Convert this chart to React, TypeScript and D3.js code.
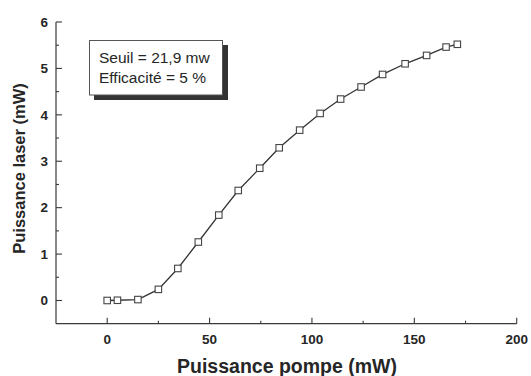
import React from "react";
import * as d3 from "d3";

const pompe = [0, 5, 15, 25, 34.5, 44.5, 54.5, 64, 74.5, 84, 94, 104, 114, 124, 134.5, 145.5, 156, 165.5, 171];
const laser = [0, 0.005, 0.02, 0.24, 0.69, 1.26, 1.84, 2.37, 2.85, 3.29, 3.67, 4.03, 4.34, 4.6, 4.87, 5.1, 5.28, 5.46, 5.52];
const xMajor = [0, 50, 100, 150, 200];
const xMinor = [25, 75, 125, 175];
const yMajor = [0, 1, 2, 3, 4, 5, 6];
const yMinor = [0.5, 1.5, 2.5, 3.5, 4.5, 5.5];
const boxLines = ["Seuil = 21,9 mw", "Efficacité = 5 %"];
const xTitle = "Puissance pompe (mW)";
const yTitle = "Puissance laser (mW)";

const W = 531;
const H = 376;
const AX = "#3a3a3a";
const TXT = "#262626";
const FONT = "'Liberation Sans', Arial, Helvetica, sans-serif";

export default function App() {
  const x = d3.scaleLinear().domain([-25, 200]).range([56, 516.7]);
  const y = d3.scaleLinear().domain([-0.5, 6]).range([323.7, 22]);
  const data = pompe.map((p, i) => [p, laser[i]] as [number, number]);
  const line = d3.line<[number, number]>().x(d => x(d[0])).y(d => y(d[1]));
  const x0 = x(-25);
  const yB = y(-0.5);
  const ms = 6.5;

  return (
    <svg width={W} height={H} style={{ position: "absolute", left: 0, top: 0, background: "#fff" }} fontFamily={FONT}>
      <rect x={0} y={0} width={W} height={H} fill="#fff" />
      {/* axes */}
      <line x1={x0} x2={x0} y1={y(6)} y2={yB} stroke={AX} strokeWidth={1.2} />
      <line x1={x0} x2={x(200)} y1={yB} y2={yB} stroke={AX} strokeWidth={1.2} />
      {xMajor.map(v => (
        <g key={"xm" + v}>
          <line x1={x(v)} x2={x(v)} y1={yB} y2={yB - 6} stroke={AX} strokeWidth={1.1} />
          <text x={x(v)} y={yB + 20} textAnchor="middle" fontSize={13.5} fontWeight="bold" fill={TXT}>{v}</text>
        </g>
      ))}
      {xMinor.map(v => (
        <line key={"xn" + v} x1={x(v)} x2={x(v)} y1={yB} y2={yB - 3} stroke={AX} strokeWidth={1.1} />
      ))}
      {yMajor.map(v => (
        <g key={"ym" + v}>
          <line x1={x0} x2={x0 + 6} y1={y(v)} y2={y(v)} stroke={AX} strokeWidth={1.1} />
          <text x={x0 - 8} y={y(v) + 4.8} textAnchor="end" fontSize={13.5} fontWeight="bold" fill={TXT}>{v}</text>
        </g>
      ))}
      {yMinor.map(v => (
        <line key={"yn" + v} x1={x0} x2={x0 + 3} y1={y(v)} y2={y(v)} stroke={AX} strokeWidth={1.1} />
      ))}
      {/* titles */}
      <text x={287} y={373} textAnchor="middle" fontSize={19.5} fontWeight="bold" fill={TXT}>{xTitle}</text>
      <text transform={`translate(24.5,168.5) rotate(-90)`} textAnchor="middle" fontSize={16.5} fontWeight="bold" fill={TXT}>{yTitle}</text>
      {/* annotation box */}
      <rect x={94} y={45} width={134} height={55} fill="#333" />
      <rect x={89.5} y={40.5} width={133} height={54.5} fill="#fff" stroke="#555" strokeWidth={1} />
      {boxLines.map((t, i) => (
        <text key={t} x={99} y={62.5 + i * 20.5} fontSize={15.5} fill={TXT}>{t}</text>
      ))}
      {/* series */}
      <path d={line(data) || ""} fill="none" stroke="#333" strokeWidth={1.3} />
      {data.map((d, i) => (
        <rect key={i} x={x(d[0]) - ms / 2} y={y(d[1]) - ms / 2} width={ms} height={ms} fill="#fff" stroke="#444" strokeWidth={1.1} />
      ))}
    </svg>
  );
}
